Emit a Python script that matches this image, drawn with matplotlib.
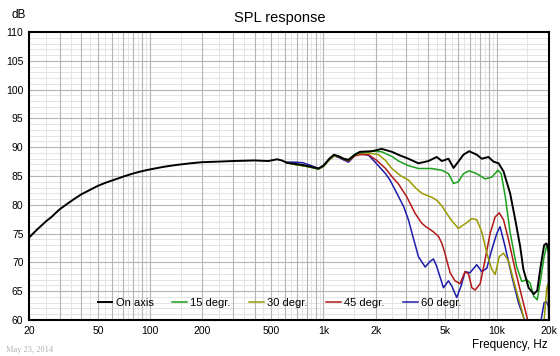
import numpy as np
import matplotlib
matplotlib.use('Agg')
import matplotlib.pyplot as plt

# 周波数 [Hz] と SPL [dB]
f_on = [20, 22, 25, 27, 30, 33, 36, 40, 45, 50, 55, 60, 65, 70, 80, 90, 100, 120, 140,
        170, 200, 250, 300, 400, 480, 540, 575,
        614, 686, 760, 850, 936, 1000, 1080, 1150, 1230, 1304, 1394, 1520, 1627,
        1900, 2170, 2480, 2750, 3090, 3530, 4030, 4500, 4820, 5260, 5630, 6000,
        6420, 6920, 7660, 8190, 8950, 9570, 10240, 10930, 11930, 12740, 13630,
        14230, 15250, 16340, 17100, 17900, 18740, 19330, 19860, 20000]
db_on = [74.3, 75.55, 77.1, 77.9, 79.2, 80.1, 80.9, 81.8, 82.6, 83.3, 83.8, 84.2, 84.55, 84.9,
         85.45, 85.85, 86.15, 86.6, 86.9, 87.2, 87.4, 87.5, 87.6, 87.7, 87.6, 87.9, 87.7,
         87.3, 87.1, 86.9, 86.6, 86.3, 86.8, 88.0, 88.7, 88.4, 88.0, 87.8, 88.7, 89.2,
         89.3, 89.7, 89.2, 88.6, 88.0, 87.2, 87.6, 88.3, 87.6, 88.0, 86.4, 87.5,
         88.7, 89.3, 88.7, 88.0, 88.3, 87.5, 87.2, 85.8, 82.0, 77.6, 72.8,
         68.8, 65.6, 64.5, 65.1, 69.3, 73.0, 73.3, 72.4, 58.0]

f_15 = [614, 686, 760, 850, 936, 1000, 1080, 1150, 1230, 1304, 1394, 1520, 1627, 1800,
        1900, 2170, 2480, 2710, 3090, 3530, 4200, 4820, 5260, 5630, 6000, 6420, 6920,
        7660, 8560, 9360, 10150, 10600, 11190, 11930, 13000, 13920, 14900, 15570,
        16340, 17100, 17900, 18740, 19400, 19900, 20000]
db_15 = [87.3, 87.0, 86.8, 86.5, 86.2, 86.7, 87.9, 88.6, 88.4, 88.0, 87.8, 88.8, 89.2, 89.2,
         89.3, 89.2, 88.4, 87.6, 86.8, 86.3, 86.3, 86.0, 85.4, 83.7, 84.0, 85.4, 85.9,
         85.4, 84.5, 84.8, 86.0, 85.4, 81.4, 75.2, 69.3, 66.7, 67.0, 66.4,
         64.1, 63.5, 67.0, 71.0, 73.0, 71.6, 58.0]

f_30 = [614, 686, 760, 850, 936, 1000, 1080, 1150, 1230, 1304, 1394, 1520, 1627, 1800,
        2080, 2280, 2480, 2800, 3090, 3380, 3690, 4220, 4500, 4820, 5440, 6000, 6560,
        7180, 7660, 8190, 8760, 9350, 9780, 10330, 10930, 11690, 12740, 13920, 14500,
        18700, 19400, 19800, 20000]
db_30 = [87.3, 87.0, 86.8, 86.5, 86.2, 86.7, 87.8, 88.5, 88.4, 88.0, 87.7, 88.6, 89.0, 89.0,
         88.7, 87.7, 86.3, 85.0, 84.3, 83.0, 82.0, 81.3, 80.8, 79.8, 77.4, 75.9, 76.7,
         77.6, 77.4, 75.3, 71.6, 68.8, 67.9, 71.0, 71.6, 70.2, 65.9, 61.8, 59.5,
         59.5, 65.5, 66.3, 58.0]

f_45 = [614, 686, 760, 850, 936, 1000, 1080, 1150, 1230, 1304, 1394, 1520, 1627, 1819,
        2030, 2280, 2480, 2710, 3020, 3380, 3690, 3860, 4310, 4610, 4820, 5030, 5200,
        5380, 5740, 6140, 6560, 6860, 7180, 7500, 8020, 8560, 9140, 9780, 10330,
        10930, 11690, 12740, 13920, 14900, 15500]
db_45 = [87.3, 87.0, 86.8, 86.5, 86.2, 86.7, 87.8, 88.5, 88.3, 87.9, 87.6, 88.5, 88.7, 88.7,
         87.7, 86.3, 84.9, 83.6, 81.4, 78.5, 76.8, 76.3, 75.3, 74.5, 73.3, 71.5, 69.8,
         68.2, 66.8, 66.3, 68.4, 68.0, 65.6, 65.2, 66.3, 70.5, 75.0, 77.9, 78.6,
         77.4, 73.9, 68.8, 64.1, 60.6, 58.0]

f_60 = [614, 686, 760, 850, 936, 1000, 1080, 1150, 1230, 1304, 1394, 1520, 1593, 1819,
        2030, 2280, 2420, 2650, 2900, 3090, 3300, 3530, 3860, 4130, 4310, 4500, 4920,
        5260, 5500, 5870, 6220, 6560, 7000, 7660, 8190, 8760, 9350, 9990, 10440,
        11170, 12200, 13330, 14230, 15000, 17500, 18000, 18740, 19300, 19860, 20000]
db_60 = [87.4, 87.4, 87.3, 86.8, 86.3, 86.8, 87.8, 88.5, 88.2, 87.8, 87.4, 88.6, 89.0, 88.6,
         87.1, 85.4, 84.3, 82.0, 79.7, 77.4, 74.2, 71.0, 69.2, 70.2, 70.6, 69.3, 65.6,
         66.8, 65.9, 63.9, 65.9, 68.4, 68.2, 69.6, 68.4, 69.0, 72.2, 75.0, 76.2,
         72.7, 67.6, 63.0, 60.6, 58.0, 58.0, 60.0, 63.0, 63.2, 62.4, 60.0]

labels = ['On axis', '15 degr.', '30 degr.', '45 degr.', '60 degr.']
colors = ['#000000', '#1aa01a', '#9a9a00', '#b41818', '#1c1cac']
widths = [1.4, 1.1, 1.1, 1.1, 1.1]

x_ticks = [20, 50, 100, 200, 500, 1000, 2000, 5000, 10000, 20000]
x_ticklabels = ['20', '50', '100', '200', '500', '1k', '2k', '5k', '10k', '20k']

plt.rcParams['font.family'] = ['Liberation Sans', 'DejaVu Sans']

fig = plt.figure(figsize=(5.6, 3.56), dpi=100)
ax = fig.add_axes([29 / 560, 1 - 320 / 356, 520 / 560, 288 / 356])

ax.set_xscale('log')
ax.set_xlim(20, 20000)
ax.set_ylim(60, 110)

# グリッド
major_x = [n * 10 ** k for k in range(1, 5) for n in range(1, 10)]
minor_x = [(n + 0.5) * 10 ** k for k in range(1, 5) for n in range(1, 10)]
for v in minor_x:
    if 20 < v < 20000:
        ax.axvline(v, color='#e4e4e4', lw=0.7, zorder=0)
for v in range(61, 110):
    if v % 5:
        ax.axhline(v, color='#e4e4e4', lw=0.7, zorder=0)
for v in major_x:
    if 20 < v < 20000:
        ax.axvline(v, color='#b4b4b4', lw=0.8, zorder=1)
for v in range(65, 110, 5):
    ax.axhline(v, color='#b4b4b4', lw=0.8, zorder=1)

series = [(f_on, db_on), (f_15, db_15), (f_30, db_30), (f_45, db_45), (f_60, db_60)]
lines = []
# 奥から描く (60度が一番下)
for i in range(len(series) - 1, -1, -1):
    f, d = series[i]
    ln, = ax.plot(f, d, color=colors[i], lw=widths[i], zorder=3 + (5 - i))
    lines.append((i, ln))
lines.sort()
handles = [ln for _, ln in lines]

ax.set_xticks(x_ticks)
ax.set_xticklabels(x_ticklabels)
ax.xaxis.set_minor_locator(matplotlib.ticker.NullLocator())
ax.set_yticks(range(60, 111, 5))
ax.tick_params(axis='both', length=0, labelsize=7.5, colors='#000000')
ax.tick_params(axis='x', pad=4)
ax.tick_params(axis='y', pad=4)
for s in ax.spines.values():
    s.set_linewidth(1.5)
    s.set_color('black')
    s.set_zorder(10)

leg = ax.legend(handles, labels, ncol=5, frameon=False, fontsize=8,
                loc='center', bbox_to_anchor=(0.482, 0.059),
                handlelength=1.3, handletextpad=0.3, columnspacing=1.7)

fig.text(0.5, 1 - 18 / 356, 'SPL response', ha='center', va='center', fontsize=10.5)
fig.text(12 / 560, 1 - 15 / 356, 'dB', ha='left', va='center', fontsize=8.5)
fig.text(548 / 560, 1 - 345 / 356, 'Frequency, Hz', ha='right', va='center', fontsize=8.5)
fig.text(6 / 560, 1 - 350 / 356, 'May 23, 2014', ha='left', va='center', fontsize=6,
         color='#b0b0b0', family='Liberation Serif')

fig.savefig('out.png', dpi=100)
